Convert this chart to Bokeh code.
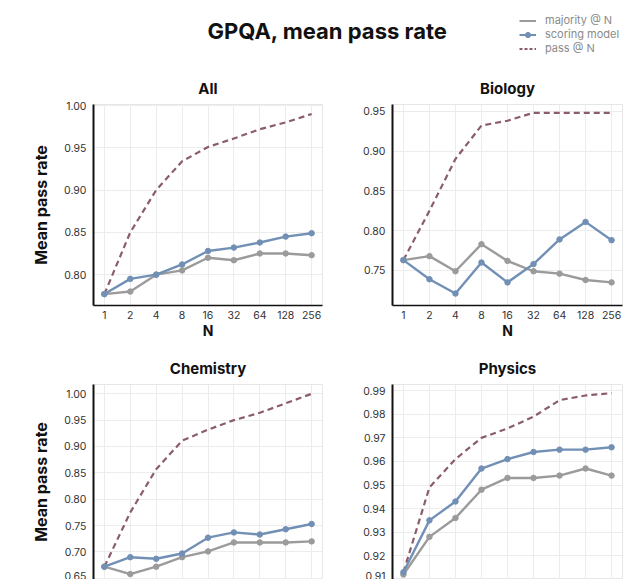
from bokeh.plotting import figure
from bokeh.layouts import column, row
from bokeh.models import (Range1d, FixedTicker, NumeralTickFormatter, Legend,
                          LegendItem, Label, ColumnDataSource)
from bokeh.embed import file_html
from bokeh.resources import INLINE

# ---------------- data ----------------
N_vals = [1, 2, 4, 8, 16, 32, 64, 128, 256]

all_majority = [0.777, 0.780, 0.800, 0.805, 0.820, 0.817, 0.825, 0.825, 0.823]
all_scoring = [0.777, 0.795, 0.800, 0.812, 0.828, 0.832, 0.838, 0.845, 0.849]
all_pass = [0.777, 0.850, 0.900, 0.934, 0.951, 0.961, 0.972, 0.980, 0.990]

bio_majority = [0.763, 0.768, 0.749, 0.783, 0.762, 0.749, 0.746, 0.738, 0.735]
bio_scoring = [0.763, 0.739, 0.721, 0.760, 0.735, 0.758, 0.789, 0.811, 0.788]
bio_pass = [0.763, 0.825, 0.890, 0.932, 0.938, 0.948, 0.948, 0.948, 0.948]

chem_majority = [0.672, 0.658, 0.672, 0.690, 0.701, 0.718, 0.718, 0.718, 0.720]
chem_scoring = [0.672, 0.690, 0.687, 0.697, 0.727, 0.737, 0.733, 0.743, 0.753]
chem_pass = [0.672, 0.775, 0.857, 0.911, 0.932, 0.950, 0.964, 0.982, 1.000]

phys_majority = [0.912, 0.928, 0.936, 0.948, 0.953, 0.953, 0.954, 0.957, 0.954]
phys_scoring = [0.913, 0.935, 0.943, 0.957, 0.961, 0.964, 0.965, 0.965, 0.966]
phys_pass = [0.913, 0.949, 0.961, 0.970, 0.974, 0.979, 0.986, 0.988, 0.989]

all_yticks = [0.80, 0.85, 0.90, 0.95, 1.00]
bio_yticks = [0.75, 0.80, 0.85, 0.90, 0.95]
chem_yticks = [0.65, 0.70, 0.75, 0.80, 0.85, 0.90, 0.95, 1.00]
phys_yticks = [0.91, 0.92, 0.93, 0.94, 0.95, 0.96, 0.97, 0.98, 0.99]

series_names = ["majority @ N", "scoring model", "pass @ N"]

# ---------------- style ----------------
FONT = "Inter"
C_MAJ = "#9b9b9b"
C_SCO = "#7290b5"
C_PASS = "#8a5c6c"
X_PAD = 2 ** 0.42


def panel(title, maj, sco, pas, yticks, ylim, width, height,
          bl, br, bt, bb, ylabel, show_x):
    p = figure(width=width, height=height, x_axis_type="log",
               x_range=Range1d(N_vals[0] / X_PAD, N_vals[-1] * X_PAD),
               y_range=Range1d(*ylim),
               output_backend="svg", toolbar_location=None,
               min_border_left=bl, min_border_right=br,
               min_border_top=bt, min_border_bottom=bb,
               background_fill_color="white", border_fill_color="white")
    p.outline_line_color = "#e6e6e6"
    p.title.text = title
    p.title.align = "center"
    p.title.text_font = FONT
    p.title.text_font_size = "15px"
    p.title.text_font_style = "bold"
    p.title.text_color = "#111111"
    p.title.standoff = 14

    src = ColumnDataSource(dict(n=N_vals, maj=maj, sco=sco, pas=pas))
    p.line("n", "pas", source=src, color=C_PASS, line_width=2.2,
           line_dash="6 4")
    p.line("n", "maj", source=src, color=C_MAJ, line_width=2.4)
    p.scatter("n", "maj", source=src, color=C_MAJ, size=5.5)
    p.line("n", "sco", source=src, color=C_SCO, line_width=2.4)
    p.scatter("n", "sco", source=src, color=C_SCO, size=5.5)

    xa = p.xaxis[0]
    xa.ticker = FixedTicker(ticks=N_vals, minor_ticks=[])
    xa.formatter = NumeralTickFormatter(format="0")
    xa.axis_line_color = "#111111"
    xa.axis_line_width = 1.6
    xa.major_tick_line_color = None
    xa.minor_tick_line_color = None
    xa.major_tick_out = 0
    xa.major_tick_in = 0
    xa.major_label_text_font = FONT
    xa.major_label_text_font_size = "10.5px"
    xa.major_label_text_color = "#333333"
    xa.major_label_standoff = 5
    xa.axis_label = "N"
    xa.axis_label_text_font = FONT
    xa.axis_label_text_font_size = "14px"
    xa.axis_label_text_font_style = "bold"
    xa.axis_label_text_color = "#111111"
    xa.axis_label_standoff = 0
    if not show_x:
        xa.visible = False

    ya = p.yaxis[0]
    ya.ticker = FixedTicker(ticks=yticks, minor_ticks=[])
    ya.formatter = NumeralTickFormatter(format="0.00")
    ya.axis_line_color = "#111111"
    ya.axis_line_width = 2
    ya.major_tick_line_color = None
    ya.minor_tick_line_color = None
    ya.major_tick_out = 0
    ya.major_tick_in = 0
    ya.major_label_text_font = FONT
    ya.major_label_text_font_size = "10.5px"
    ya.major_label_text_color = "#333333"
    ya.major_label_standoff = 7
    if ylabel:
        ya.axis_label = "Mean pass rate"
        ya.axis_label_text_font = FONT
        ya.axis_label_text_font_size = "16px"
        ya.axis_label_text_font_style = "bold"
        ya.axis_label_text_color = "#111111"
        ya.axis_label_standoff = 10

    p.xgrid.ticker = FixedTicker(ticks=N_vals, minor_ticks=[])
    p.ygrid.ticker = FixedTicker(ticks=yticks, minor_ticks=[])
    p.xgrid.grid_line_color = "#ececec"
    p.ygrid.grid_line_color = "#ececec"
    return p


HDR_H = 69
TOP_H = 280
BOT_H = 579 - HDR_H - TOP_H

p_all = panel("All", all_majority, all_scoring, all_pass, all_yticks,
              (0.7635, 1.0012), 330, TOP_H, 93, 8, 34, 44, True, True)
p_bio = panel("Biology", bio_majority, bio_scoring, bio_pass, bio_yticks,
              (0.706, 0.9584), 310, TOP_H, 62, 18, 34, 44, False, True)
p_chem = panel("Chemistry", chem_majority, chem_scoring, chem_pass,
               chem_yticks, (0.6477, 1.0176), 330, BOT_H, 93, 8, 34, 0,
               True, False)
p_phys = panel("Physics", phys_majority, phys_scoring, phys_pass,
               phys_yticks, (0.9099, 0.99265), 310, BOT_H, 62, 18, 34, 0,
               False, False)

# ---------------- header with title and legend ----------------
hdr = figure(width=640, height=HDR_H, x_range=Range1d(0, 640),
             y_range=Range1d(0, HDR_H), output_backend="svg",
             toolbar_location=None, min_border=0)
hdr.axis.visible = False
hdr.grid.visible = False
hdr.outline_line_color = None
hdr.add_layout(Label(x=327, y=39, x_units="screen", y_units="screen",
                     text="GPQA, mean pass rate", text_align="center",
                     text_baseline="middle", text_font=FONT,
                     text_font_size="22px", text_font_style="bold",
                     text_color="#111111"))

# off-range placeholder data: only used to draw the legend glyphs
ghost = ColumnDataSource(dict(x=[-100, -90], y=[-100, -100]))
r_maj = hdr.line("x", "y", source=ghost, color=C_MAJ, line_width=2)
r_sco_l = hdr.line("x", "y", source=ghost, color=C_SCO, line_width=2)
r_sco_m = hdr.scatter("x", "y", source=ghost, color=C_SCO, size=4)
r_pass = hdr.line("x", "y", source=ghost, color=C_PASS, line_width=1.8,
                  line_dash="3 2")
legend = Legend(items=[
    LegendItem(label=series_names[0], renderers=[r_maj]),
    LegendItem(label=series_names[1], renderers=[r_sco_l, r_sco_m]),
    LegendItem(label=series_names[2], renderers=[r_pass]),
], location=(519, 14), border_line_color=None,
    background_fill_alpha=0, padding=0, margin=0, spacing=0,
    label_text_font=FONT, label_text_font_size="11px",
    label_text_color="#8a8a8a", glyph_width=17, glyph_height=13,
    label_height=13, label_standoff=9)
hdr.add_layout(legend)

layout = column(hdr, row(p_all, p_bio), row(p_chem, p_phys))
layout.background = "white"

open("out.html", "w").write(file_html(layout, INLINE))
